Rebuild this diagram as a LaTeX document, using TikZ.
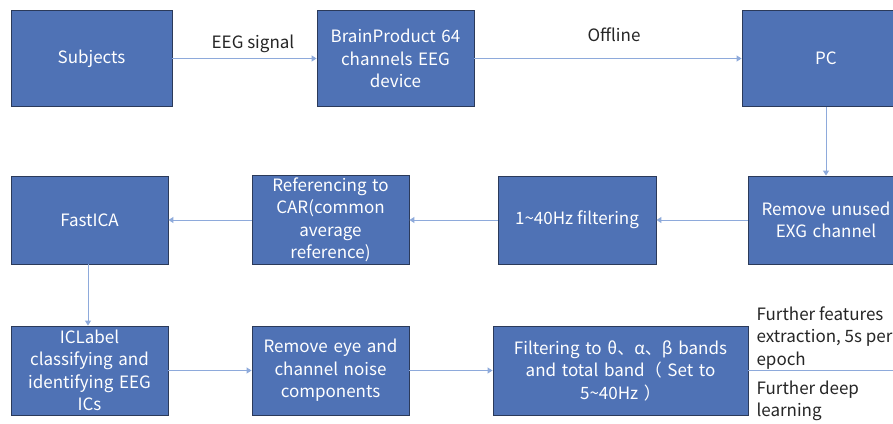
\documentclass[tikz,border=0pt]{standalone}
\usepackage{fontspec}
\setmainfont{Noto Sans CJK SC}
\usetikzlibrary{arrows.meta}
\definecolor{boxfill}{HTML}{4F72B5}
\definecolor{boxdraw}{HTML}{2B3A5A}
\definecolor{linec}{HTML}{8EAADB}
\definecolor{txtc}{HTML}{262626}
\tikzset{
  stepbox/.style={draw=boxdraw, line width=0.9pt, fill=boxfill, text=white, align=center,
    inner sep=2pt, font=\fontsize{17}{22.5}\selectfont},
  conn/.style={draw=linec, line width=1pt, -{Triangle[width=6pt,length=5pt]}},
  plainline/.style={draw=linec, line width=1pt},
  lbl/.style={text=txtc, font=\fontsize{17}{22.5}\selectfont},
}
\begin{document}
\begin{tikzpicture}[x=1pt,y=-1pt]
\clip (0,0) rectangle (893,423);
\fill[white] (0,0) rectangle (893,423);
% row 1
\node[stepbox, minimum width=161pt, minimum height=96pt] (subj) at (91.5,58.5) {Subjects};
\node[stepbox, minimum width=157pt, minimum height=96pt, text width=152pt] (brain) at (395.5,58.5) {BrainProduct 64\\channels EEG\\device};
\node[stepbox, minimum width=168pt, minimum height=96pt] (pc) at (826,58.5) {PC};
% row 2
\node[stepbox, minimum width=157pt, minimum height=88pt] (ica) at (89.5,220) {FastICA};
\node[stepbox, minimum width=157pt, minimum height=88pt, text width=152pt] (car) at (330.5,220) {Referencing to\\CAR(common\\average\\reference)};
\node[stepbox, minimum width=158pt, minimum height=88pt] (filt) at (577,220) {1\textasciitilde40Hz filtering};
\node[stepbox, minimum width=156pt, minimum height=88pt, text width=152pt] (rm) at (826,220) {Remove unused\\EXG channel};
% row 3
\node[stepbox, minimum width=157pt, minimum height=89pt, text width=152pt] (icl) at (89.5,370.5) {ICLabel\\classifying and\\identifying EEG\\ICs};
\node[stepbox, minimum width=157pt, minimum height=89pt, text width=152pt] (eye) at (330.5,370.5) {Remove eye and\\channel noise\\components};
\node[stepbox, minimum width=255pt, minimum height=89pt, text width=250pt] (band) at (620.5,370.5) {Filtering to θ、α、β bands\\and total band（ Set to\\5\textasciitilde40Hz ）};
\coordinate (outend) at (900,370.5);
% labels
\node[lbl] (l1) at (253,44) {EEG signal};
\node[lbl] (l2) at (614,35) {Offline};
\node[lbl, anchor=north west, align=left] (l3) at (753,303) {Further features\\extraction, 5s per\\epoch};
\node[lbl, anchor=north west, align=left] (l4) at (753,377) {Further deep\\learning};
% connectors
\draw[conn] (subj) -- (brain);
\draw[conn] (brain) -- (pc);
\draw[conn] (pc) -- (rm);
\draw[conn] (rm) -- (filt);
\draw[conn] (filt) -- (car);
\draw[conn] (car) -- (ica);
\draw[conn] (ica.south -| 88,0) -- (icl.north -| 88,0);
\draw[conn] (icl) -- (eye);
\draw[conn] (eye) -- (band);
\draw[plainline] (band) -- (outend);
\end{tikzpicture}
\end{document}
